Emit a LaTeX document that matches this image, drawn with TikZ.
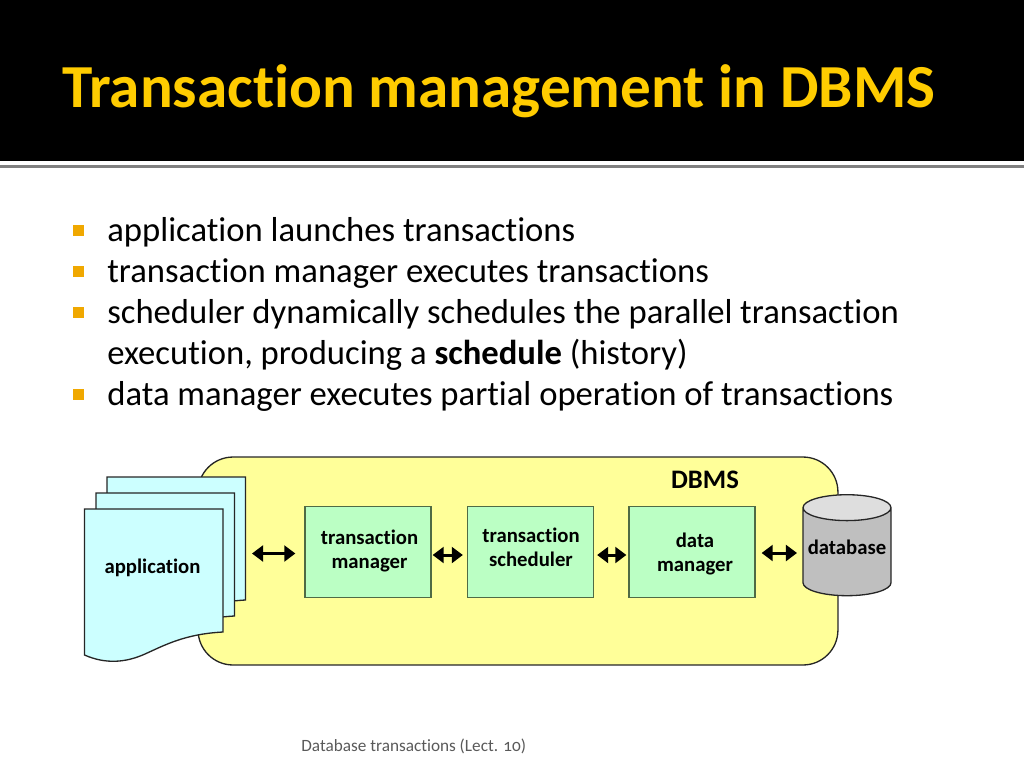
\documentclass[tikz,border=0pt]{standalone}
\usepackage{fontspec}
\setmainfont{Carlito}[Ligatures=NoCommon]
\usetikzlibrary{arrows.meta, positioning, shapes.geometric, calc}
\definecolor{titlegold}{HTML}{FFCC00}
\definecolor{bulletgold}{HTML}{F0A800}
\definecolor{dbmsyellow}{HTML}{FFFF99}
\definecolor{sheetcyan}{HTML}{CCFFFF}
\definecolor{boxgreen}{HTML}{BBFFC4}
\definecolor{boxline}{HTML}{4F6B45}
\tikzset{
  bullettext/.style={anchor=base west, inner sep=0pt, font=\fontsize{19.72}{24}\selectfont},
  boxlabel/.style={font=\fontsize{11.8}{13.7}\selectfont\bfseries, align=center},
  stagebox/.style={draw=boxline, fill=boxgreen, line width=0.75pt, minimum width=2.52cm, minimum height=1.82cm, inner sep=0pt},
  biarrow/.style={<->, >={Triangle[length=6.3pt,width=9pt]}, line width=1.7pt, black},
}
\begin{document}
\begin{tikzpicture}[x=0.02cm, y=-0.02cm]
  \useasboundingbox (0,0) rectangle (1024,768);

  % Title band
  \fill[black] (0,0) rectangle (1024,160.5);
  \fill[black!50] (0,165) rectangle (1024,167.5);
  \node[anchor=base west, inner sep=0pt, text=titlegold, font=\fontsize{34.8}{40}\selectfont\bfseries] (title) at (62,107) {Transaction management in DBMS};

  % Bullets
  \foreach \y in {230.5,271.5,312.5,394.5} {
    \fill[bulletgold] (73,\y-5.5) rectangle (83.5,\y+5.5);
  }
  \node[bullettext] (lineone) at (107,241) {application launches transactions};
  \node[bullettext] (linetwo) at (107,282) {transaction manager executes transactions};
  \node[bullettext] (linethree) at (107,323) {scheduler dynamically schedules the parallel transaction};
  \node[bullettext] (linefour) at (107,364) {execution, producing a \textbf{schedule} (history)};
  \node[bullettext] (linefive) at (107,405) {data manager executes partial operation of transactions};

  % DBMS frame
  \node[draw=black!85, fill=dbmsyellow, line width=0.75pt, rounded corners=0.7cm, minimum width=12.8cm, minimum height=4.16cm, inner sep=0pt] (dbms) at (518,561) {};
  \node[boxlabel, font=\fontsize{15.2}{18}\selectfont\bfseries] (dbmslabel) at (705,480) {DBMS};

  % Application sheets
  \foreach \dx/\dy in {22.5/-32, 11.5/-16, 0/0} {
    \draw[draw=black!85, fill=sheetcyan, line width=0.75pt, shift={(\dx,\dy)}] (84.5,509) -- (223,509) -- (223,632)
      .. controls (185,634) and (165,645) .. (145,654)
      .. controls (125,663) and (105,664) .. (84.5,655) -- cycle;
  }
  \node[boxlabel] (app) at (152.5,567.5) {application};
  \coordinate (appedge) at (246,553.5);

  % Stages
  \node[stagebox] (manager) at (368,552) {};
  \node[stagebox] (scheduler) at (530.5,552) {};
  \node[stagebox] (datamgr) at (692,552) {};
  \node[boxlabel] (managerlabel) at ([shift={(1.5,-1)}]manager.center) {transaction\\manager};
  \node[boxlabel] (schedulerlabel) at ([shift={(0.5,-5)}]scheduler.center) {transaction\\scheduler};
  \node[boxlabel] (datamgrlabel) at ([shift={(3,2)}]datamgr.center) {data\\manager};
  \node[cylinder, shape border rotate=90, aspect=0.33, draw=black!85, line width=0.75pt, cylinder uses custom fill, cylinder body fill=black!25, cylinder end fill=black!13, minimum width=1.76cm, minimum height=2.02cm, inner sep=0pt, outer sep=0pt, boxlabel] (database) at (847,552) {\raisebox{1.1pt}[7pt][2pt]{database}};
  \coordinate (dbedge) at (database.west |- datamgr.east);

  % Connectors
  \draw[biarrow] ([shift={(6,0)}]appedge) -- ([shift={(-9,1.5)}]manager.west);
  \draw[biarrow] ([shift={(1,3)}]manager.east) -- ([shift={(-4,3)}]scheduler.west);
  \draw[biarrow] ([shift={(3,3)}]scheduler.east) -- ([shift={(-2,3)}]datamgr.west);
  \draw[biarrow] ([shift={(6,1)}]datamgr.east) -- ([shift={(-6,1)}]dbedge);

  % Footer
  \node[anchor=base west, inner sep=0pt, text=black!65, font=\fontsize{9.8}{12}\selectfont\addfontfeature{Numbers=OldStyle}] (footer) at (301,751) {Database transactions (Lect. 10)};
\end{tikzpicture}
\end{document}
